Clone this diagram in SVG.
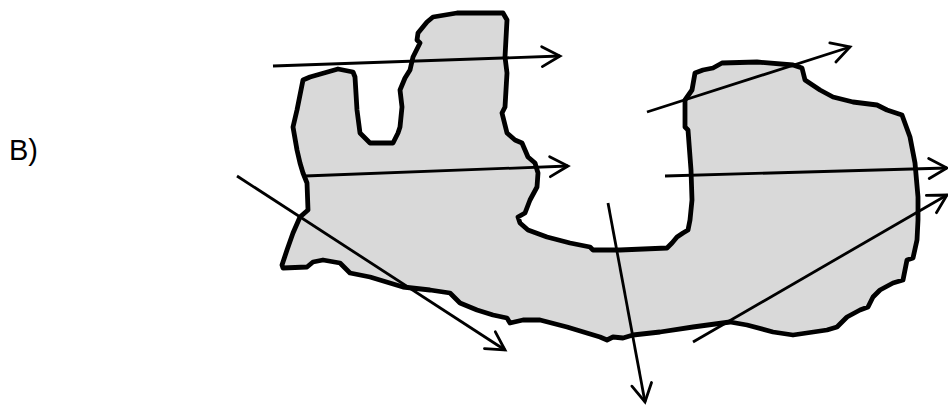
<svg xmlns="http://www.w3.org/2000/svg" width="948" height="405" viewBox="0 0 948 405">
<style>
.shape{fill:#d9d9d9;stroke:#000;stroke-width:4.8;stroke-linejoin:round;stroke-linecap:round}
.arr{fill:none;stroke:#000;stroke-width:2.8;marker-end:url(#chev)}
.lbl{font-family:"Liberation Sans",Arial,sans-serif;font-size:29px;fill:#000}
</style>
<defs>
<marker id="chev" markerUnits="userSpaceOnUse" markerWidth="30" markerHeight="30" viewBox="-22 -15 30 30" refX="0" refY="0" orient="auto" overflow="visible">
<path d="M-18,-10 L0,0 L-18,10" fill="none" stroke="#000" stroke-width="2.8" stroke-linecap="round" stroke-linejoin="miter"/>
</marker>
</defs>
<rect width="948" height="405" fill="#fff"/>
<g id="label"><text class="lbl" x="9" y="160">B)</text></g>
<g id="shape">
<path class="shape" d="M310,77 L338,69 L353,72 L355,77 L357,110 L360,133 L370,143 L393,143 L398,133 L400,127 L402,107 L400,90 L405,78 L410,70 L413,57 L420,43 L417,40 L418,33 L427,22 L433,17 L457,13 L497,13 L503,13 L507,20 L505,57 L507,73 L505,107 L502,113 L507,133 L515,140 L522,143 L528,157 L535,163 L538,173 L537,187 L530,200 L525,213 L518,217 L520,223 L528,230 L547,237 L570,243 L590,247 L593,250 L620,250 L667,248 L672,243 L677,237 L683,233 L688,230 L690,220 L692,200 L691,170 L688,130 L685,127 L685,100 L692,90 L695,73 L703,70 L713,68 L722,63 L757,62 L793,65 L802,68 L805,80 L820,90 L833,97 L853,102 L877,105 L887,110 L902,115 L910,137 L915,163 L918,197 L918,220 L917,240 L913,258 L907,260 L903,280 L893,283 L880,290 L873,297 L868,307 L860,310 L847,317 L837,327 L827,330 L793,335 L773,332 L747,325 L730,322 L693,327 L660,332 L633,335 L623,338 L613,337 L607,340 L600,337 L567,327 L540,320 L523,320 L510,323 L507,318 L493,315 L477,310 L460,303 L450,293 L430,290 L403,287 L370,277 L350,273 L340,263 L323,260 L313,262 L307,267 L283,268 L282,265 L287,250 L293,233 L300,217 L308,210 L307,183 L303,173 L300,163 L297,150 L293,127 L297,110 L303,80 Z"/>
</g>
<g id="connectors">
<line class="arr" x1="273" y1="66" x2="560" y2="56"/>
<line class="arr" x1="305" y1="176" x2="568" y2="166"/>
<line class="arr" x1="237" y1="176" x2="505" y2="350"/>
<line class="arr" x1="608" y1="203" x2="645" y2="402"/>
<line class="arr" x1="647" y1="112" x2="850" y2="47"/>
<line class="arr" x1="665" y1="176" x2="947" y2="168"/>
<line class="arr" x1="693" y1="342" x2="947" y2="195"/>
</g>
</svg>
